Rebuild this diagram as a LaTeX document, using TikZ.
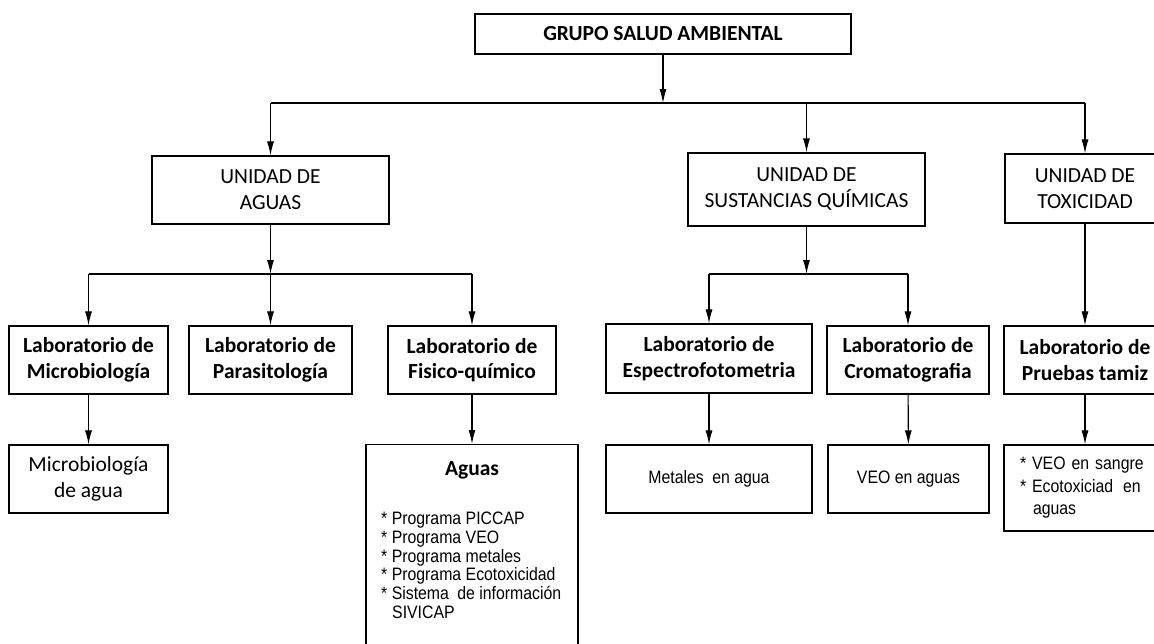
\documentclass[tikz,border=0pt]{standalone}
\usepackage{fontspec}
\setmainfont{Carlito}
\newfontfamily\narrowsans[FakeStretch=0.88]{Liberation Sans}
\usetikzlibrary{arrows.meta}
\begin{document}
\begin{tikzpicture}[x=1pt,y=-1pt,
  box/.style={draw,line width=1.2pt,inner sep=0pt,align=center},
  unitbox/.style={box,font=\fontsize{21.5}{26}\selectfont},
  labbox/.style={box,font=\fontsize{21.5}{25.7}\selectfont\bfseries},
  smallbox/.style={box,font=\narrowsans\fontsize{18}{22.5}\selectfont},
  listtxt/.style={inner sep=0pt,align=left,font=\narrowsans\fontsize{18}{18.7}\selectfont},
  arr/.style={-{Latex[length=14pt,width=7pt]},line width=1.1pt},
  bus/.style={line width=1.1pt}]
\useasboundingbox (0,0) rectangle (1154,643);
\node[box,font=\fontsize{21.5}{24}\selectfont\bfseries,minimum width=376,minimum height=40] (grupo) at (663,34) {GRUPO SALUD AMBIENTAL};
\node[unitbox,minimum width=237,minimum height=68] (uaguas) at (270.5,190) {UNIDAD DE\\AGUAS};
\node[unitbox,minimum width=237,minimum height=73] (usust) at (806.5,189.5) {UNIDAD DE\\SUSTANCIAS QUÍMICAS};
\node[unitbox,minimum width=160,minimum height=69] (utox) at (1085,188.5) {UNIDAD DE\\TOXICIDAD};
\node[labbox,minimum width=159,minimum height=68] (micro) at (88.5,360) {Laboratorio de\\Microbiología};
\node[labbox,minimum width=163,minimum height=68] (parasit) at (270.5,360) {Laboratorio de\\Parasitología};
\node[labbox,minimum width=168,minimum height=68] (fisico) at (472,360) {Laboratorio de\\Fisico-químico};
\node[labbox,minimum width=206,minimum height=69] (espectro) at (709,358.5) {Laboratorio de\\Espectrofotometria};
\node[labbox,minimum width=162,minimum height=68] (croma) at (908,360) {Laboratorio de\\Cromatografia};
\node[labbox,minimum width=162,minimum height=68] (tamiz) at (1085,360) {Laboratorio de\\Pruebas tamiz};
\node[unitbox,minimum width=159,minimum height=68] (microagua) at (88.5,479) {Microbiología\\de agua};
\node[box,minimum width=212,minimum height=220,anchor=north] (aguasbox) at (472,444) {};
\node[font=\fontsize{21.5}{26}\selectfont\bfseries,inner sep=0pt,anchor=base] (aguashead) at (472,475) {Aguas};
\node[listtxt,anchor=north west] (aguaslist) at (381,512) {* Programa PICCAP\\{}* Programa VEO\\{}* Programa metales\\{}* Programa Ecotoxicidad\\{}* Sistema\hspace{4pt} de información\\\hspace*{11pt}SIVICAP};
\node[smallbox,minimum width=206,minimum height=68] (metales) at (709,479) {Metales\hspace{4pt} en agua};
\node[smallbox,minimum width=161,minimum height=68] (veo) at (908.5,479) {VEO en aguas};
\node[box,listtxt,font=\narrowsans\fontsize{18}{22.5}\selectfont,text width=130,inner xsep=16,minimum height=86] (tamizlist) at (1085,488) {* VEO en sangre\\{}* Ecotoxiciad\hspace{4pt} en\\\hspace*{13pt}aguas};
\coordinate (b0) at (0,103);
\coordinate (b1) at (0,274);
\draw[arr] (grupo) -- (grupo |- b0);
\draw[bus] (uaguas |- b0) -- (utox |- b0);
\foreach \n in {uaguas,usust,utox} \draw[arr] (\n |- b0) -- (\n);
\draw[arr] (uaguas) -- (uaguas |- b1);
\draw[bus] (micro |- b1) -- (fisico |- b1);
\foreach \n in {micro,parasit,fisico} \draw[arr] (\n |- b1) -- (\n);
\draw[arr] (usust) -- (usust |- b1);
\draw[bus] (espectro |- b1) -- (croma |- b1);
\foreach \n in {espectro,croma} \draw[arr] (\n |- b1) -- (\n);
\draw[arr] (utox) -- (tamiz);
\draw[arr] (micro) -- (microagua);
\draw[arr] (fisico) -- (aguasbox);
\draw[arr] (espectro) -- (metales);
\draw[arr] (croma) -- (veo);
\draw[arr] (tamiz) -- (tamizlist);
\end{tikzpicture}
\end{document}
